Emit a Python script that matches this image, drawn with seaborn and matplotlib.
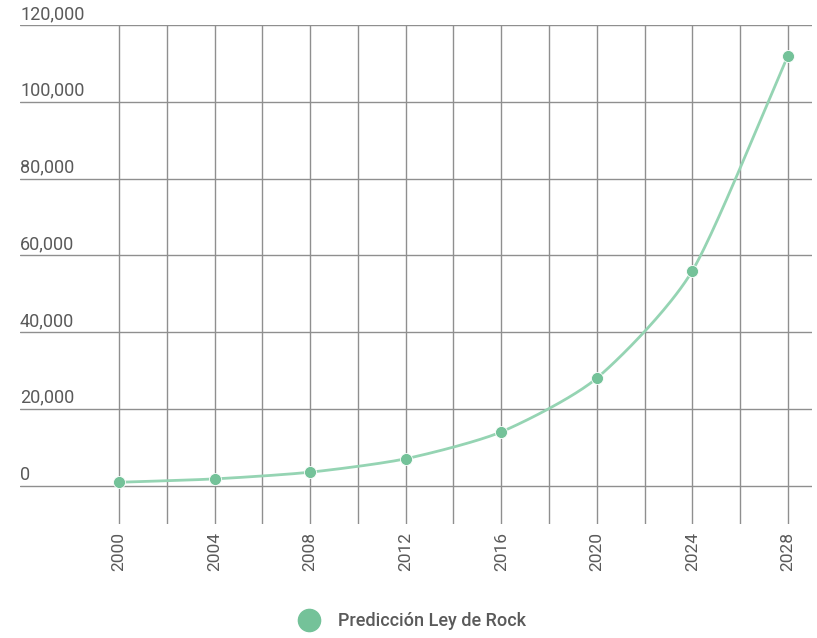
import numpy as np
import pandas as pd
import matplotlib
matplotlib.use("Agg")
import matplotlib.pyplot as plt
import matplotlib.transforms as mtransforms
from matplotlib.lines import Line2D
import seaborn as sns

# Rock's law projection: cost of a semiconductor fab (arbitrary units)
years = [2000, 2004, 2008, 2012, 2016, 2020, 2024, 2028]
values = [875, 1750, 3500, 7000, 14000, 28000, 56000, 112000]
y_ticks = [0, 20000, 40000, 60000, 80000, 100000, 120000]
y_tick_labels = ["0", "20,000", "40,000", "60,000", "80,000", "100,000", "120,000"]
x_ticks = [2000, 2004, 2008, 2012, 2016, 2020, 2024, 2028]
series_name = "Predicción Ley de Rock"

POINT_COLOR = "#74c299"
LINE_COLOR = "#95d4b3"
GRID_COLOR = "#8f8f8f"
TEXT_COLOR = "#5a5a5a"

sns.set_theme(style="white")
plt.rcParams["font.family"] = ["Roboto", "DejaVu Sans"]

df = pd.DataFrame({"year": years, "value": values})


def smooth_path(x, y, steps=40):
    """Catmull-Rom style curve through the points, for a softened line."""
    x = np.asarray(x, float)
    y = np.asarray(y, float)
    px = np.concatenate([[2 * x[0] - x[1]], x, [2 * x[-1] - x[-2]]])
    py = np.concatenate([[2 * y[0] - y[1]], y, [2 * y[-1] - y[-2]]])
    out_x, out_y = [], []
    t = np.linspace(0, 1, steps, endpoint=False)
    for i in range(1, len(px) - 2):
        for arr, out in ((px, out_x), (py, out_y)):
            p0, p1, p2, p3 = arr[i - 1], arr[i], arr[i + 1], arr[i + 2]
            m1 = (p2 - p0) / 2 * 0.7
            m2 = (p3 - p1) / 2 * 0.7
            h00 = 2 * t**3 - 3 * t**2 + 1
            h10 = t**3 - 2 * t**2 + t
            h01 = -2 * t**3 + 3 * t**2
            h11 = t**3 - t**2
            out.extend(h00 * p1 + h10 * m1 + h01 * p2 + h11 * m2)
    out_x.append(x[-1])
    out_y.append(y[-1])
    return np.array(out_x), np.array(out_y)


fig = plt.figure(figsize=(8.17, 6.38), dpi=100)
W, H = 817, 638
left_px, right_px, top_px, bottom_px = 20, 812, 25, 524
ax = fig.add_axes([left_px / W, 1 - bottom_px / H,
                   (right_px - left_px) / W, (bottom_px - top_px) / H])

sx, sy = smooth_path(df["year"], df["value"])
ax.plot(sx, sy, color=LINE_COLOR, lw=2, zorder=3, solid_capstyle="round")
sns.scatterplot(data=df, x="year", y="value", ax=ax, color=POINT_COLOR,
                s=75, edgecolor="white", linewidth=0.6, zorder=4, legend=False)

ax.set_xlim(1995.856, 2029.005)
ax.set_ylim(-10000, 120000)

ax.set_xticks(x_ticks)
ax.set_xticks(list(range(2002, 2028, 4)), minor=True)
ax.set_xticklabels([str(v) for v in x_ticks], rotation=90, fontsize=12.5,
                   color=TEXT_COLOR)
ax.tick_params(axis="x", which="both", length=0, pad=6)
ax.set_yticks(y_ticks)
ax.set_yticklabels([])
ax.tick_params(axis="y", length=0)

ax.grid(True, axis="both", which="both", color=GRID_COLOR, lw=1)
ax.set_axisbelow(True)
for s in ax.spines.values():
    s.set_visible(False)
ax.set_xlabel("")
ax.set_ylabel("")

trans = mtransforms.blended_transform_factory(ax.transAxes, ax.transData)
offset = mtransforms.offset_copy(trans, fig=fig, x=0, y=1.5, units="points")
for v, lab in zip(y_ticks, y_tick_labels):
    ax.text(0.0, v, lab, transform=offset, ha="left", va="bottom",
            fontsize=13, color=TEXT_COLOR, clip_on=False)

handle = Line2D([], [], marker="o", linestyle="none", markersize=16,
                markerfacecolor=POINT_COLOR, markeredgecolor=POINT_COLOR)
fig.legend([handle], [series_name], loc="center",
           bbox_to_anchor=(0.500, 1 - 621 / H), frameon=False,
           fontsize=13, labelcolor=TEXT_COLOR, handletextpad=0.6,
           prop={"weight": "medium", "size": 13})

fig.savefig("out.png", dpi=100, facecolor="white")
